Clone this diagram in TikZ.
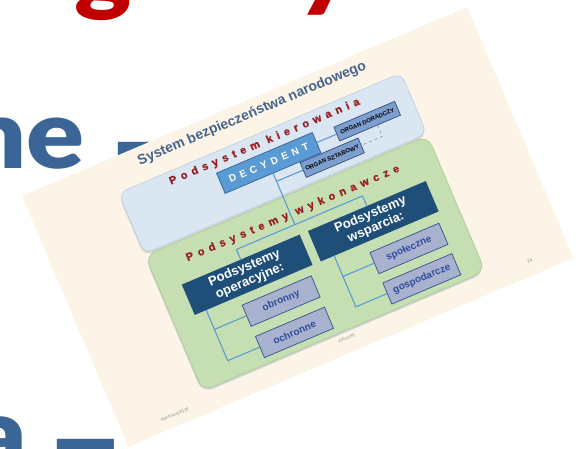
\documentclass[tikz,border=0pt]{standalone}
\usepackage{fontspec}
\usepackage{graphicx}
\setmainfont{Liberation Sans}
\IfFontExistsTF{Lato Black}{\newfontfamily\heavy{Lato Black}}{\newfontfamily\heavy{Lato}[UprightFont=* Bold, FakeBold=1.5]}
\newfontfamily\spacedA{Liberation Sans}[UprightFont=* Bold, FakeBold=1, LetterSpace=44]
\newfontfamily\spacedB{Liberation Sans}[UprightFont=* Bold, FakeBold=1, LetterSpace=46]
\newfontfamily\spacedC{Liberation Sans}[LetterSpace=44]
\definecolor{bigred}{HTML}{C00000}
\definecolor{bigblue}{HTML}{3A6596}
\definecolor{cream}{HTML}{FCF5E7}
\definecolor{titleblue}{HTML}{46648C}
\definecolor{kred}{HTML}{9A1F24}
\definecolor{pblue}{HTML}{DAE6F2}
\definecolor{pblueedge}{HTML}{C4D3E4}
\definecolor{pgreen}{HTML}{C5DFB3}
\definecolor{pgreenedge}{HTML}{B2CE9E}
\definecolor{decfill}{HTML}{5B9BD5}
\definecolor{decedge}{HTML}{3A6A9C}
\definecolor{orgfill}{HTML}{7F9ED0}
\definecolor{orgedge}{HTML}{2F4F7F}
\definecolor{navy}{HTML}{1F4E79}
\definecolor{subfill}{HTML}{A8B2CF}
\definecolor{subedge}{HTML}{34508E}
\definecolor{subtext}{HTML}{2F4D9A}
\definecolor{connc}{HTML}{5B9BD5}
\begin{document}
\begin{tikzpicture}[x=1pt,y=1pt,
  bigtext/.style={inner sep=0pt, font=\heavy\fontsize{96}{96}\selectfont},
  slidetitle/.style={inner sep=0pt, text=titleblue, font=\bfseries\fontsize{14}{16}\selectfont},
  redspacedA/.style={inner sep=0pt, text=kred, font=\spacedA\fontsize{11}{12}\selectfont},
  redspacedB/.style={inner sep=0pt, text=kred, font=\spacedB\fontsize{11}{12}\selectfont},
  panelblue/.style={draw=pblueedge, fill=pblue, rounded corners=9pt, line width=0.8pt, minimum width=307pt, minimum height=66pt, inner sep=0pt},
  panelgreen/.style={draw=pgreenedge, fill=pgreen, rounded corners=11pt, line width=0.8pt, minimum width=307pt, minimum height=147pt, inner sep=0pt},
  decbox/.style={draw=decedge, fill=decfill, line width=0.8pt, minimum width=104pt, minimum height=22pt, inner sep=0pt, text=white, font=\spacedC\bfseries\fontsize{10}{12}\selectfont},
  orgbox/.style={draw=orgedge, fill=orgfill, line width=0.7pt, inner sep=0pt, font=\bfseries\fontsize{6}{7}\selectfont},
  navybox/.style={fill=navy, minimum width=128pt, minimum height=33pt, inner sep=0pt, text=white, align=center, font=\bfseries\fontsize{13}{14}\selectfont},
  subbox/.style={draw=subedge, fill=subfill, line width=0.7pt, minimum width=75pt, minimum height=23pt, inner sep=0pt, text=subtext, font=\bfseries\fontsize{10}{12}\selectfont},
  link/.style={draw=connc, line width=1.1pt},
  dashlink/.style={draw=orgedge!60, line width=0.7pt, dashed},
  foot/.style={inner sep=0pt, text=black!40, font=\fontsize{5}{6}\selectfont},
]
\useasboundingbox (0,0) rectangle (576,449);
\fill[white] (0,0) rectangle (576,449);
\begin{scope}
\clip (0,0) rectangle (576,449);
\node[bigtext, text=bigred, anchor=base west] (tg) at (74,445.5) {\scalebox{1.12}[1]{g}};
\node[bigtext, text=bigred, anchor=base west] (ty) at (296,449) {\scalebox{1.12}[1]{y}};
\node[bigtext, text=bigblue, anchor=base east] (tne) at (85,280) {\scalebox{1.12}[1]{ne}};
\node[bigtext, text=bigblue, anchor=base west] (tnd) at (106,248) {\scalebox{1.45}[1.7]{–}};
\node[bigtext, text=bigblue, anchor=base east] (ta) at (27,-19) {\scalebox{1.12}[1]{a}};
\node[bigtext, text=bigblue, anchor=base west] (tad) at (45,-49) {\scalebox{1.45}[1.7]{–}};
\end{scope}
\begin{scope}[shift={(22,253)}, rotate=23, transform shape]
  \fill[cream] (0,0) rectangle (483.5,-272.5);
  \node[slidetitle] (title) at (244,-14) {System bezpieczeństwa narodowego};
  % panels
  \fill[black!18, rounded corners=9pt] (89,-37) rectangle (396,-103);
  \node[panelblue] (kpanel) at (243.5,-68) {};
  \fill[black!18, rounded corners=11pt] (89,-105) rectangle (396,-252);
  \node[panelgreen] (wpanel) at (243.5,-176.5) {};
  \node[redspacedA] (kier) at (244.5,-45) {Podsystem kierowania};
  \node[redspacedB] (wyk) at (242.5,-122) {Podsystemy wykonawcze};
  % boxes
  \node[decbox] (dec) at (240,-66) {DECYDENT};
  \node[orgbox, minimum width=66pt, minimum height=15pt] (dor) at (347,-66) {ORGAN DORADCZY};
  \node[orgbox, minimum width=63pt, minimum height=16pt] (szt) at (300.5,-86) {ORGAN SZTABOWY};
  \node[navybox] (oper) at (176.5,-160.5) {Podsystemy\\operacyjne:};
  \node[navybox] (wsp) at (313.5,-160.5) {Podsystemy\\wsparcia:};
  \node[subbox] (obr) at (197.5,-198) {obronny};
  \node[subbox] (och) at (197.5,-232) {ochronne};
  \node[subbox] (spo) at (335.7,-199.5) {społeczne};
  \node[subbox] (gos) at (335.7,-232.5) {gospodarcze};
  % connector points
  \coordinate (j) at (240,-133);
  \coordinate (jb) at (240,-86);
  \coordinate (jl) at (176.5,-133);
  \coordinate (jr) at (313.5,-133);
  \coordinate (lt0) at (125,-177);
  \coordinate (lt1) at (125,-198);
  \coordinate (lt2) at (125,-232);
  \coordinate (rt0) at (264,-177);
  \coordinate (rt1) at (264,-199.5);
  \coordinate (rt2) at (264,-232.5);
  \coordinate (dq) at (355,-73.5);
  \coordinate (dc) at (355,-86);
  % connectors
  \draw[link] (dec.east) -- (dor.west);
  \draw[link] (dec.south) -- (j);
  \draw[link] (jb) -- (szt.west);
  \draw[link] (oper.north) -- (jl) -- (jr) -- (wsp.north);
  \draw[link] (lt0) -- (lt2);
  \draw[link] (lt1) -- (obr.west);
  \draw[link] (lt2) -- (och.west);
  \draw[link] (rt0) -- (rt2);
  \draw[link] (rt1) -- (spo.west);
  \draw[link] (rt2) -- (gos.west);
  \draw[dashlink] (dq) -- (dc) -- (szt.east);
  % footer
  \node[foot] (www) at (55,-261) {www.koziej.pl};
  \node[foot] (cpy) at (243,-258) {©Koziej};
  \node[foot] (pg) at (442,-258) {24};
\end{scope}
\end{tikzpicture}
\end{document}
